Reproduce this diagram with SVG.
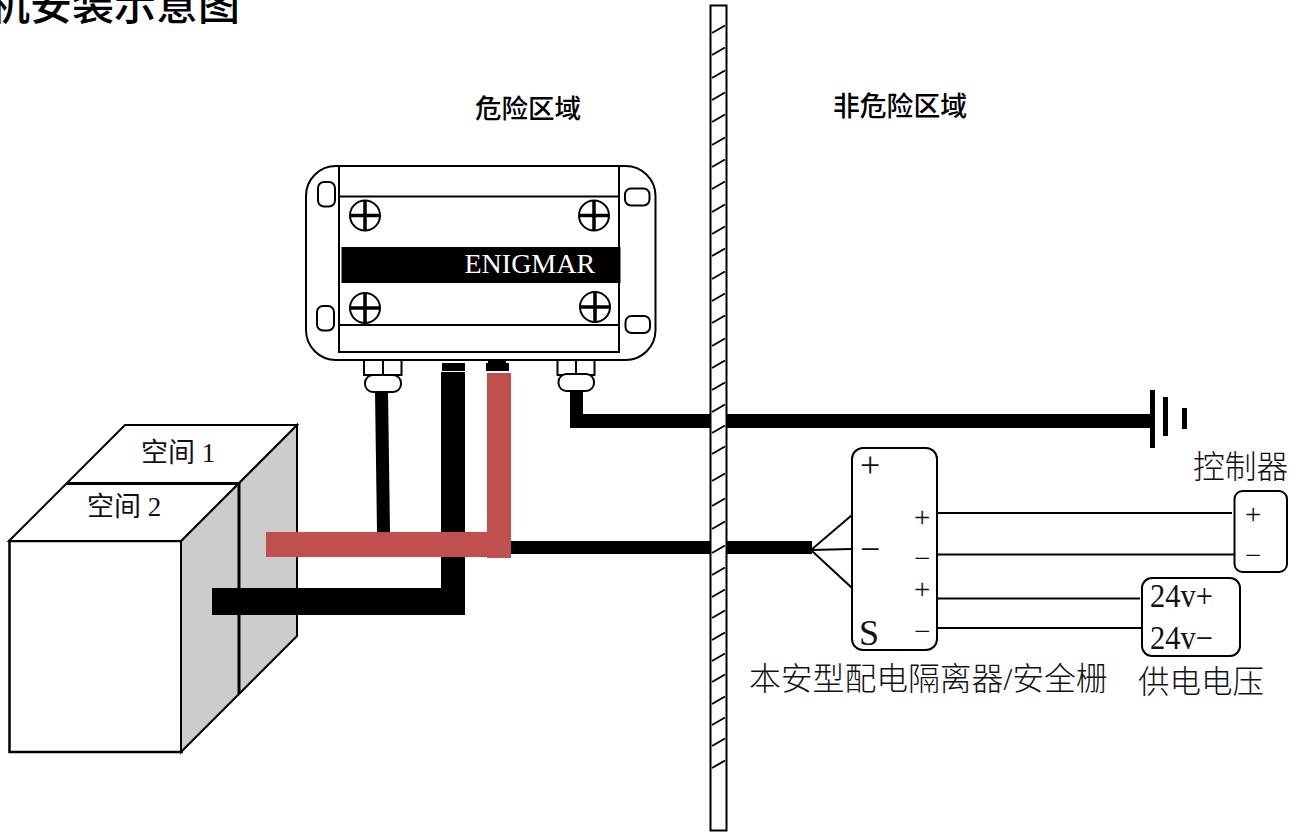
<svg xmlns="http://www.w3.org/2000/svg" width="1298" height="832" viewBox="0 0 1298 832">
<style>
.l{fill:none;stroke:#000;stroke-width:2}
.w{fill:#fff;stroke:#000;stroke-width:2}
.k{fill:#000}
.r{fill:#c0504d}
.t{font-family:"Liberation Serif","Noto Sans CJK SC",serif;fill:#111}
.c{font-family:"Noto Sans CJK SC",sans-serif;fill:#111;font-weight:300}
.b{font-family:"Noto Sans CJK SC",sans-serif;fill:#000;font-weight:500}
</style>
<defs>
<g id="screw"><circle r="15" fill="#fff" stroke="#000" stroke-width="2"/><path d="M-15 0H15M0-15V15" stroke="#000" stroke-width="3.500"/></g>
</defs>
<text class="b" x="-12" y="20" font-size="42">机安装示意图</text>
<g id="wall">
<rect x="710.500" y="5.500" width="16" height="825" class="w"/>
<path class="l" d="M712 33l13-7.500M712 55l13-7.500M712 78l13-7.500M712 100l13-7.500M712 122l13-7.500M712 145l13-7.500M712 167l13-7.500M712 189l13-7.500M712 212l13-7.500M712 234l13-7.500M712 256l13-7.500M712 279l13-7.500M712 301l13-7.500M712 323l13-7.500M712 346l13-7.500M712 368l13-7.500M712 390l13-7.500M712 412l13-7.500M712 433l13-7.500M712 454l13-7.500M712 481l13-7.500M712 506l13-7.500M712 529l13-7.500M712 553l13-7.500M712 575l13-7.500M712 597l13-7.500M712 618l13-7.500M712 640l13-7.500M712 661l13-7.500M712 682l13-7.500M712 704l13-7.500M712 725l13-7.500M712 746l13-7.500M712 768l13-7.500"/>
</g>
<g id="cube">
<rect x="9.500" y="541" width="172" height="211" fill="#fff" stroke="#000" stroke-width="2.500"/>
<path d="M181 541L297 425V636L181 752Z" fill="#ccc" stroke="#000" stroke-width="2"/>
<path d="M9 541L125 425H297L181 541Z" fill="#fff" stroke="#000" stroke-width="2"/>
<path d="M67 483.500H239" stroke="#000" stroke-width="3" fill="none"/>
<path d="M239 483V694" stroke="#000" stroke-width="3" fill="none"/>
<text class="t" x="141" y="462" font-size="27">空间 1</text>
<text class="t" x="87" y="516" font-size="27">空间 2</text>
</g>
<g id="connectors">
<path class="k" d="M375 391H388L390 532H377Z"/>
<rect class="k" x="441" y="372" width="24" height="243"/>
<rect class="k" x="212" y="588" width="253" height="27"/>
<rect class="k" x="442" y="363" width="23" height="8"/>
<rect class="k" x="486" y="363" width="23" height="8"/>
<rect class="k" x="488" y="361" width="18" height="3"/>
<rect class="r" x="487" y="373" width="24" height="185"/>
<rect class="r" x="266" y="532" width="245" height="25"/>
<rect class="k" x="511" y="541" width="199" height="13"/>
<rect class="k" x="727" y="541" width="85" height="13"/>
<path class="k" d="M570 391H583V414H710V428H570Z"/>
<rect class="k" x="727" y="414" width="428" height="14"/>
<g id="earth"><rect class="k" x="1150" y="390" width="5" height="58"/><rect class="k" x="1163" y="397" width="5" height="39"/><rect class="k" x="1182" y="408" width="5" height="21"/></g>
<path class="l" d="M811 550L852 515M811 550L851 549M811 550L852 588"/>
<path class="l" d="M937 513H1232M937 554.500H1234M937 598.500H1140M937 628H1142"/>
</g>
<g id="enclosure">
<rect x="306" y="166" width="349.500" height="194" rx="30" class="w"/>
<rect x="339" y="166" width="280" height="186" fill="none" stroke="#000" stroke-width="2"/>
<path class="l" d="M339 196.500H619M339 325H619"/>
<rect class="k" x="341.500" y="247" width="279" height="36"/>
<text x="464.500" y="273" font-size="28" fill="#fff" font-family="Liberation Serif,serif">ENIGMAR</text>
<use href="#screw" x="365" y="215.500"/>
<use href="#screw" x="594" y="215.500"/>
<use href="#screw" x="365" y="308"/>
<use href="#screw" x="595" y="307"/>
<rect x="318" y="182" width="17" height="24.500" rx="6" class="w"/>
<rect x="317" y="306" width="17" height="24.500" rx="6" class="w"/>
<rect x="625" y="188.500" width="24.500" height="17" rx="6" class="w"/>
<rect x="625.500" y="316" width="24.500" height="17" rx="6" class="w"/>
</g>
<g id="gland-left">
<rect x="364" y="360" width="37.500" height="15" class="w"/><path class="l" d="M383 360V375"/>
<rect x="365" y="375" width="36" height="17" rx="8" class="w"/>
</g>
<g id="gland-right">
<rect x="557.500" y="360" width="37" height="15" class="w"/><path class="l" d="M576 360V375"/>
<rect x="558.500" y="374" width="35.500" height="17" rx="8" class="w"/>
</g>
<g id="barrier">
<rect x="852" y="448" width="85" height="202" rx="11" fill="#fff" stroke="#000" stroke-width="2"/>
<text class="t" x="860" y="476.500" font-size="36">+</text>
<text class="t" x="860" y="560.500" font-size="36">−</text>
<text class="t" x="914" y="527" font-size="29">+</text>
<text class="t" x="914" y="568.300" font-size="29">−</text>
<text class="t" x="914" y="599.300" font-size="29">+</text>
<text class="t" x="914" y="641" font-size="29">−</text>
<text class="t" x="859" y="645" font-size="36">S</text>
<text class="c" x="749" y="690" font-size="31.800">本安型配电隔离器<tspan font-family="Liberation Serif">/</tspan>安全栅</text>
</g>
<g id="controller">
<rect x="1234.500" y="491" width="52.500" height="81" rx="8" fill="#fff" stroke="#000" stroke-width="2"/>
<text class="t" x="1245" y="523.600" font-size="29">+</text>
<text class="t" x="1245" y="565" font-size="29">−</text>
<text class="c" x="1193" y="478" font-size="31.800">控制器</text>
</g>
<g id="supply">
<rect x="1142" y="578" width="98" height="78" rx="10" fill="#fff" stroke="#000" stroke-width="2"/>
<text class="t" x="1150" y="607" font-size="33" textLength="63" lengthAdjust="spacingAndGlyphs">24v+</text>
<text class="t" x="1150" y="648.500" font-size="33" textLength="63" lengthAdjust="spacingAndGlyphs">24v−</text>
<text class="c" x="1138" y="693" font-size="31.500">供电电压</text>
</g>
<text class="b" x="475" y="118" font-size="26.500">危险区域</text>
<text class="b" x="833" y="116" font-size="26.800">非危险区域</text>
</svg>
